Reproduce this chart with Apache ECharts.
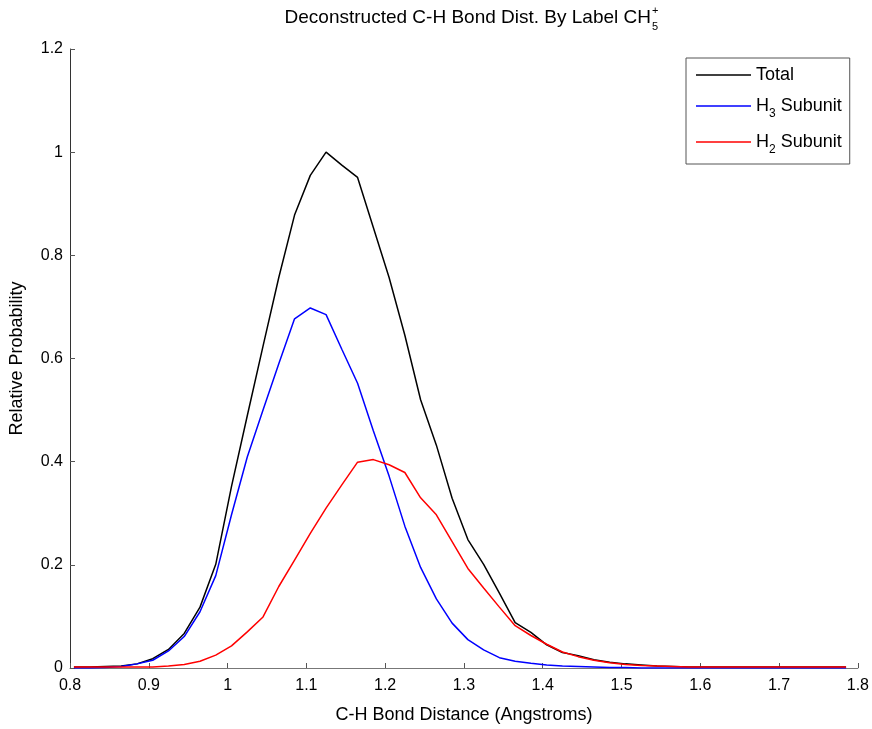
<!DOCTYPE html>
<html>
<head>
<meta charset="utf-8">
<script src="https://cdn.jsdelivr.net/npm/echarts@6/dist/echarts.min.js"></script>
<style>
html,body{margin:0;padding:0;background:#fff;}
#chart{width:872px;height:729px;}
</style>
</head>
<body>
<div id="chart"></div>
<script>
// Bond distances (Angstroms), sampled every 0.02
var bondDistance = [0.805,0.825,0.845,0.865,0.885,0.905,0.925,0.945,0.965,0.985,
  1.005,1.025,1.045,1.065,1.085,1.105,1.125,1.145,1.165,1.185,
  1.205,1.225,1.245,1.265,1.285,1.305,1.325,1.345,1.365,1.385,
  1.405,1.425,1.445,1.465,1.485,1.505,1.525,1.545,1.565,1.585,
  1.605,1.625,1.645,1.665,1.685,1.705,1.725,1.745,1.765,1.785];

var totalProb = [0.002,0.002,0.003,0.004,0.008,0.018,0.036,0.067,0.118,0.201,
  0.352,0.489,0.624,0.757,0.878,0.955,1.0,0.975,0.951,0.854,
  0.757,0.645,0.52,0.432,0.329,0.249,0.201,0.145,0.088,0.069,
  0.045,0.030,0.024,0.016,0.011,0.008,0.006,0.004,0.003,0.002,
  0.002,0.002,0.002,0.002,0.002,0.002,0.002,0.002,0.002,0.002];

var h3Prob = [0,0,0.001,0.003,0.008,0.015,0.033,0.061,0.109,0.179,
  0.297,0.409,0.50,0.59,0.677,0.698,0.685,0.618,0.552,0.46,
  0.372,0.275,0.195,0.134,0.087,0.055,0.035,0.02,0.013,0.009,
  0.006,0.004,0.003,0.002,0.001,0.001,0,0,0,0,
  0,0,0,0,0,0,0,0,0,0];

var h2Prob = [0.002,0.002,0.002,0.002,0.002,0.002,0.004,0.007,0.013,0.025,
  0.043,0.07,0.099,0.158,0.209,0.261,0.31,0.355,0.399,0.404,
  0.394,0.379,0.33,0.297,0.245,0.193,0.155,0.118,0.082,0.063,
  0.046,0.031,0.022,0.015,0.01,0.007,0.005,0.004,0.003,0.002,
  0.002,0.002,0.002,0.002,0.002,0.002,0.002,0.002,0.002,0.002];

var seriesNames = ['Total', 'H3 Subunit', 'H2 Subunit'];
var seriesLabels = {'Total': '{n|Total}', 'H3 Subunit': '{n|H}{sub|3}{n| Subunit}', 'H2 Subunit': '{n|H}{sub|2}{n| Subunit}'};
var titleMain = 'Deconstructed C-H Bond Dist. By Label CH';
var titleSup = '+';
var titleSub = '5';
var xAxisName = 'C-H Bond Distance (Angstroms)';
var yAxisName = 'Relative Probability';

function pairs(xs, ys){ return xs.map(function(x,i){ return [x, ys[i]]; }); }

var FONT = '"Liberation Sans", Arial, Helvetica, sans-serif';
var chart = echarts.init(document.getElementById('chart'), null, {renderer:'canvas'});
chart.setOption({
  animation: false,
  backgroundColor: '#fff',
  textStyle: {fontFamily: FONT},
  graphic: [
    {type:'text', x: 651, y: 18, style:{text: titleMain, font: '19px ' + FONT, fill:'#000', textAlign:'right', textVerticalAlign:'middle'}},
    {type:'text', x: 652, y: 11, style:{text: titleSup, font: '11px ' + FONT, fill:'#000', textAlign:'left', textVerticalAlign:'middle'}},
    {type:'text', x: 652, y: 27, style:{text: titleSub, font: '11px ' + FONT, fill:'#000', textAlign:'left', textVerticalAlign:'middle'}}
  ],
  grid: {left: 69, right: 14, top: 49, bottom: 54, containLabel: false},
  legend: {
    orient: 'vertical',
    left: 686, top: 58,
    data: seriesNames,
    icon: 'rect',
    itemWidth: 55, itemHeight: 1.5,
    itemGap: 13,
    padding: [8, 8, 8, 10],
    borderColor: '#555', borderWidth: 1,
    backgroundColor: '#fff',
    formatter: function(name){ return seriesLabels[name]; },
    textStyle: {
      color: '#000',
      rich: {
        n: {fontSize: 18, fontFamily: FONT, color:'#000', lineHeight: 20},
        sub: {fontSize: 12, fontFamily: FONT, color:'#000', padding:[16,0,0,0]}
      }
    }
  },
  xAxis: {
    type: 'value', min: 0.8, max: 1.8, interval: 0.1,
    name: xAxisName, nameLocation: 'middle', nameGap: 38,
    nameTextStyle: {fontSize: 18, color: '#000', fontFamily: FONT},
    axisLine: {show: true, onZero: false, lineStyle: {color: '#777', width: 1}},
    axisTick: {show: true, inside: true, length: 5, lineStyle: {color: '#555'}},
    axisLabel: {fontSize: 16, color: '#000', margin: 10, fontFamily: FONT,
      formatter: function(v){ return String(+v.toFixed(1)); }},
    splitLine: {show: false}
  },
  yAxis: {
    type: 'value', min: 0, max: 1.2, interval: 0.2,
    name: yAxisName, nameLocation: 'middle', nameGap: 44, nameRotate: 90,
    nameTextStyle: {fontSize: 18, color: '#000', fontFamily: FONT},
    axisLine: {show: true, lineStyle: {color: '#333', width: 1}},
    axisTick: {show: true, inside: true, length: 5, lineStyle: {color: '#555'}},
    axisLabel: {fontSize: 16, color: '#000', margin: 7, fontFamily: FONT,
      formatter: function(v){ return String(+v.toFixed(1)); }},
    splitLine: {show: false}
  },
  series: [
    {name: 'Total', type: 'line', data: pairs(bondDistance, totalProb), showSymbol: false, symbol: 'none',
      lineStyle: {color: '#000', width: 1.5}, itemStyle: {color: '#000'}},
    {name: 'H3 Subunit', type: 'line', data: pairs(bondDistance, h3Prob), showSymbol: false, symbol: 'none',
      lineStyle: {color: '#0000ff', width: 1.5}, itemStyle: {color: '#0000ff'}},
    {name: 'H2 Subunit', type: 'line', data: pairs(bondDistance, h2Prob), showSymbol: false, symbol: 'none',
      lineStyle: {color: '#ff0000', width: 1.5}, itemStyle: {color: '#ff0000'}}
  ]
});
</script>
</body>
</html>
